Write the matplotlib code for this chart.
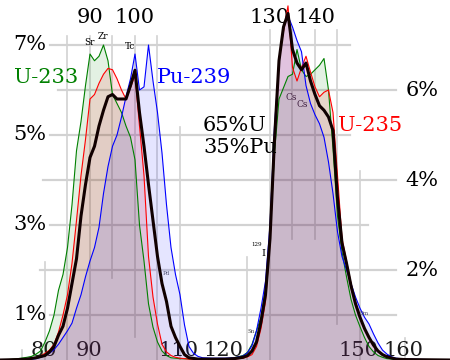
import numpy as np
import matplotlib
matplotlib.use("Agg")
import matplotlib.pyplot as plt

# ===== donnees : rendement de fission (%) par nombre de masse A =====
mass = np.arange(70, 171)

u233_pts = {70: 0.0, 72: 0.01, 74: 0.03, 76: 0.06, 77: 0.08, 78: 0.13, 79: 0.2,
            80: 0.4, 81: 0.65, 82: 1.0, 83: 1.55, 84: 1.9, 85: 2.5, 86: 3.45,
            87: 4.65, 88: 5.3, 89: 6.1, 90: 6.8, 91: 6.65, 92: 6.75, 93: 7.0,
            94: 6.65, 95: 5.9, 96: 5.7, 97: 5.5, 98: 5.2, 99: 4.95, 100: 4.45,
            101: 3.0, 102: 2.2, 103: 1.25, 104: 0.73, 105: 0.4, 106: 0.2,
            107: 0.1, 108: 0.05, 110: 0.03, 115: 0.02, 120: 0.02, 122: 0.05,
            124: 0.1, 125: 0.17, 126: 0.35, 127: 0.65, 128: 0.95, 129: 1.6,
            130: 2.7, 131: 4.6, 132: 5.8, 133: 6.05, 134: 6.3, 135: 6.35,
            136: 6.9, 137: 6.45, 138: 6.3, 139: 6.35, 140: 6.45, 141: 6.55,
            142: 6.7, 143: 6.0, 144: 4.7, 145: 3.2, 146: 2.4, 147: 1.85,
            148: 1.35, 149: 1.0, 150: 0.74, 151: 0.5, 152: 0.3, 153: 0.18,
            154: 0.1, 155: 0.06, 156: 0.03, 158: 0.01, 160: 0.0, 170: 0.0}

u235_pts = {70: 0.0, 74: 0.01, 76: 0.02, 78: 0.05, 79: 0.09, 80: 0.15, 81: 0.22,
            82: 0.35, 83: 0.62, 84: 1.0, 85: 1.45, 86: 2.15, 87: 3.1, 88: 4.1,
            89: 4.9, 90: 5.8, 91: 5.9, 92: 6.15, 93: 6.35, 94: 6.48, 95: 6.45,
            96: 6.25, 97: 6.0, 98: 5.8, 99: 6.05, 100: 6.33, 101: 5.2, 102: 4.1,
            103: 2.3, 104: 1.4, 105: 0.8, 106: 0.35, 107: 0.18, 108: 0.1,
            109: 0.06, 110: 0.04, 112: 0.02, 115: 0.015, 120: 0.015, 122: 0.02,
            124: 0.04, 125: 0.07, 126: 0.12, 127: 0.3, 128: 0.7, 129: 1.3,
            130: 2.6, 131: 4.8, 132: 6.7, 133: 7.3, 134: 7.87, 135: 6.5,
            136: 6.2, 137: 6.5, 138: 6.75, 139: 6.4, 140: 6.07, 141: 5.85,
            142: 5.95, 143: 6.0, 144: 5.5, 145: 4.1, 146: 2.7, 147: 2.2,
            148: 1.7, 149: 1.3, 150: 0.96, 151: 0.7, 152: 0.52, 153: 0.33,
            154: 0.2, 155: 0.12, 156: 0.07, 157: 0.04, 158: 0.02, 160: 0.01,
            170: 0.0}

pu239_pts = {70: 0.0, 76: 0.01, 78: 0.03, 80: 0.09, 81: 0.15, 82: 0.23, 83: 0.35,
             84: 0.5, 85: 0.65, 86: 0.82, 87: 1.15, 88: 1.45, 89: 1.85, 90: 2.2,
             91: 2.5, 92: 2.95, 93: 3.7, 94: 4.3, 95: 4.75, 96: 5.0, 97: 5.4,
             98: 5.85, 99: 6.25, 100: 6.8, 101: 6.0, 102: 6.07, 103: 7.0,
             104: 6.2, 105: 5.5, 106: 4.6, 107: 3.45, 108: 2.5, 109: 1.9,
             110: 1.45, 111: 0.78, 112: 0.3, 113: 0.15, 114: 0.08, 115: 0.05,
             117: 0.04, 120: 0.04, 122: 0.05, 124: 0.09, 125: 0.16, 126: 0.32,
             127: 0.65, 128: 1.15, 129: 1.75, 130: 3.0, 131: 5.2, 132: 6.6,
             133: 7.4, 134: 7.65, 135: 7.4, 136: 7.1, 137: 6.85, 138: 6.1,
             139: 5.7, 140: 5.45, 141: 5.25, 142: 4.95, 143: 4.4, 144: 3.7,
             145: 2.85, 146: 2.3, 147: 2.0, 148: 1.7, 149: 1.4, 150: 1.15,
             151: 0.95, 152: 0.8, 153: 0.58, 154: 0.38, 155: 0.22, 156: 0.13,
             157: 0.07, 158: 0.04, 160: 0.02, 170: 0.0}

mix_pts = {70: 0.0, 74: 0.01, 76: 0.02, 78: 0.05, 80: 0.1, 81: 0.18, 82: 0.3,
           83: 0.55, 84: 0.75, 85: 1.15, 86: 1.7, 87: 2.25, 88: 3.2, 89: 3.9,
           90: 4.5, 91: 4.75, 92: 5.2, 93: 5.55, 94: 5.85, 95: 5.9, 96: 5.8,
           97: 5.8, 98: 5.8, 99: 6.1, 100: 6.44, 101: 5.5, 102: 4.75, 103: 3.9,
           104: 3.1, 105: 2.3, 106: 1.7, 107: 1.3, 108: 0.75, 109: 0.5,
           110: 0.3, 111: 0.12, 112: 0.05, 114: 0.02, 120: 0.02, 122: 0.03,
           124: 0.06, 125: 0.1, 126: 0.2, 127: 0.4, 128: 0.85, 129: 1.45,
           130: 2.7, 131: 4.9, 132: 6.65, 133: 7.4, 134: 7.7, 135: 6.9,
           136: 6.6, 137: 6.45, 138: 6.6, 139: 6.2, 140: 5.9, 141: 5.65,
           142: 5.55, 143: 5.4, 144: 5.1, 145: 3.6, 146: 2.6, 147: 2.15,
           148: 1.65, 149: 1.25, 150: 0.95, 151: 0.7, 152: 0.5, 153: 0.33,
           154: 0.2, 155: 0.12, 156: 0.07, 158: 0.02, 160: 0.01, 170: 0.0}

def to_curve(pts):
    a = np.array(sorted(pts))
    return np.interp(mass, a, [pts[k] for k in a])

u233 = to_curve(u233_pts)
u235 = to_curve(u235_pts)
pu239 = to_curve(pu239_pts)
mix = to_curve(mix_pts)

# ===== figure =====
fig = plt.figure(figsize=(4.5, 3.6), dpi=100)
ax = fig.add_axes([0, 0, 1, 1])
ax.set_xlim(70, 170)
ax.set_ylim(0, 8)
ax.axis("off")

grid_c = "#d2d2d2"
# lignes horizontales (pourcent, debut, fin)
hlines = [(7, 81.1, 147.8), (6, 82.9, 158), (5, 81.1, 147.8), (4, 79.5, 158),
          (3, 81.1, 151.8), (2, 78.9, 158), (1, 81.1, 158)]
for yv, x0, x1 in hlines:
    ax.plot([x0, x1], [yv, yv], color=grid_c, lw=1.6, zorder=0)
# lignes verticales (A, bas, haut)
vlines = [(75, 0, 0.22), (80, 0, 2.18), (85, 0, 7.2), (90, 0, 7.2), (95, 1.82, 7.2),
          (100, 0.51, 7.2), (105, 0, 7.2), (110, 0, 5.18), (125, 0, 2.3),
          (130, 0, 7.33), (135, 2.7, 7.33), (140, 2.7, 7.33), (145, 0.8, 7.33),
          (150, 0, 4.2), (160, 0, 0.5)]
for xv, y0, y1 in vlines:
    ax.plot([xv, xv], [y0, y1], color=grid_c, lw=1.2, zorder=0)

serif = "DejaVu Serif"
fs = 15
# etiquettes des axes
for a in [90, 100, 130, 140]:
    ax.text(a, 7.62, str(a), ha="center", va="center", fontsize=fs, family=serif, zorder=1)
for a in [80, 90, 110, 120, 150, 160]:
    ax.text(a - 0.3, 0.2, str(a), ha="center", va="center", fontsize=fs, family=serif,
            color="#1a1a1a", zorder=1)
for p in [7, 5, 3, 1]:
    ax.text(76.7, p, f"{p}%", ha="center", va="center", fontsize=fs, family=serif, zorder=1)
for p in [6, 4, 2]:
    ax.text(163.8, p, f"{p}%", ha="center", va="center", fontsize=fs, family=serif, zorder=1)

# remplissages et courbes
ax.fill_between(mass, u233, color="#008000", alpha=0.11, lw=0, zorder=2)
ax.fill_between(mass, u235, color="#ff0000", alpha=0.11, lw=0, zorder=2)
ax.fill_between(mass, pu239, color="#0000ff", alpha=0.10, lw=0, zorder=2)
ax.fill_between(mass, mix, color="#800060", alpha=0.04, lw=0, zorder=2)
ax.plot(mass, u233, color="#008000", lw=0.8, zorder=3)
ax.plot(mass, u235, color="#ff0000", lw=0.8, zorder=3)
ax.plot(mass, pu239, color="#0000ff", lw=0.8, zorder=3)
ax.plot(mass, mix, color="#110000", lw=2.2, zorder=4)

# noms des courbes
ax.text(73.1, 6.27, "U-233", ha="left", va="center", fontsize=fs, family=serif, color="#008000", zorder=5)
ax.text(104.9, 6.27, "Pu-239", ha="left", va="center", fontsize=fs, family=serif, color="#0000ff", zorder=5)
ax.text(145.1, 5.22, "U-235", ha="left", va="center", fontsize=fs, family=serif, color="#ff0000", zorder=5)
ax.text(115.1, 5.22, "65%U", ha="left", va="center", fontsize=fs, family=serif, zorder=5)
ax.text(115.1, 4.73, "35%Pu", ha="left", va="center", fontsize=fs, family=serif, zorder=5)

# elements
small = [("Sr", 90.0, 7.05, 6.5, "black"), ("Zr", 92.9, 7.18, 6.5, "black"),
         ("Tc", 98.9, 6.96, 6.5, "black"), ("Pd", 106.9, 1.93, 4, "#505070"),
         ("Cs", 134.7, 5.84, 6.5, "#402040"), ("Cs", 137.1, 5.67, 6.5, "#402040"),
         ("I", 128.5, 2.36, 7, "black"), ("129", 127.0, 2.56, 4, "black"),
         ("Sn", 125.8, 0.64, 4, "#404040"), ("Sm", 150.9, 1.04, 4, "#404060")]
for t, xa, ya, s, c in small:
    ax.text(xa, ya, t, ha="center", va="center", fontsize=s, family=serif, color=c, zorder=5)

fig.savefig("out.png", dpi=100)
